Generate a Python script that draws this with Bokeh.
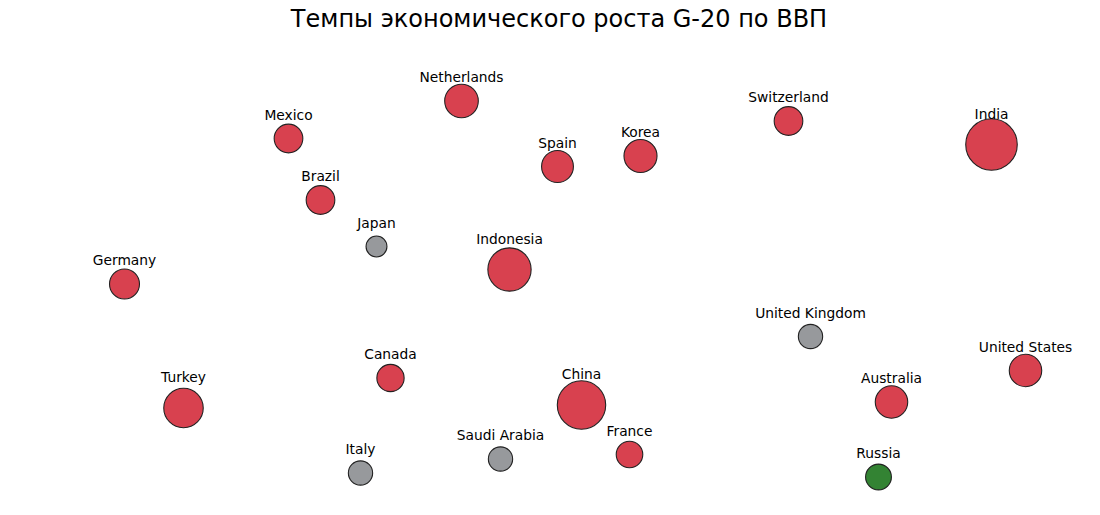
import numpy as np
from bokeh.plotting import figure
from bokeh.models import ColumnDataSource, Range1d
from bokeh.core.properties import value
from bokeh.embed import file_html
from bokeh.resources import INLINE

# --- data ---
countries = ["Netherlands", "Mexico", "Spain", "Korea", "Switzerland", "India",
             "Brazil", "Japan", "Indonesia", "Germany", "United Kingdom",
             "United States", "Canada", "Turkey", "China", "Australia",
             "Italy", "Saudi Arabia", "France", "Russia"]
pos_x = [43.1, 25.8, 52.7, 61.0, 75.8, 96.1,
         29.0, 34.6, 47.9, 9.4, 78.0,
         99.5, 36.0, 15.3, 55.1, 86.1,
         33.0, 47.0, 59.9, 84.8]
pos_y = [81.9, 74.4, 68.8, 70.9, 77.9, 73.2,
         62.1, 52.8, 48.2, 45.3, 34.8,
         28.0, 26.5, 20.5, 21.1, 21.7,
         7.5, 10.3, 11.2, 6.7]
growth = [3.0, 2.2, 2.7, 2.9, 2.2, 6.9,
          2.2, 1.2, 4.9, 2.4, 1.6,
          2.8, 2.0, 4.1, 6.1, 2.8,
          1.6, 1.6, 1.9, 1.8]
group = ["рост", "рост", "рост", "рост", "рост", "рост",
         "рост", "стагнация", "рост", "рост", "стагнация",
         "рост", "рост", "рост", "рост", "рост",
         "стагнация", "стагнация", "рост", "спад"]
title_text = "Темпы экономического роста G-20 по ВВП"

palette = {"рост": "#d8414f", "стагнация": "#97999c", "спад": "#338333"}

sizes = [20 * np.sqrt(abs(g)) - 1 for g in growth]
offsets = [-(24 if s / 2 < 19 else 31) for s in sizes]
colors = [palette[g] for g in group]

src = ColumnDataSource(dict(x=pos_x, y=pos_y, name=countries, size=sizes,
                            color=colors, yoff=offsets))

p = figure(width=1084, height=499, output_backend="svg", toolbar_location=None,
           x_axis_location=None, y_axis_location=None,
           x_range=Range1d(0.5, 105.2), y_range=Range1d(2.2, 95.6),
           min_border_left=35, min_border_right=2, min_border_bottom=0,
           min_border_top=32)
p.grid.visible = False
p.outline_line_color = None
p.background_fill_color = "white"
p.border_fill_color = "white"

p.title.text = title_text
p.title.align = "center"
p.title.text_font = "DejaVu Sans"
p.title.text_font_size = "24px"
p.title.text_font_style = "normal"
p.title.text_color = "black"
p.title.standoff = 0

p.scatter("x", "y", source=src, size="size", fill_color="color", fill_alpha=1.0,
          line_color="#222222", line_width=1.1)
p.text("x", "y", text="name", source=src, y_offset="yoff", text_align="center",
       text_baseline="alphabetic", text_font=value("DejaVu Sans"),
       text_font_size="13.8px", text_color="black")

open("out.html", "w").write(file_html(p, INLINE))
